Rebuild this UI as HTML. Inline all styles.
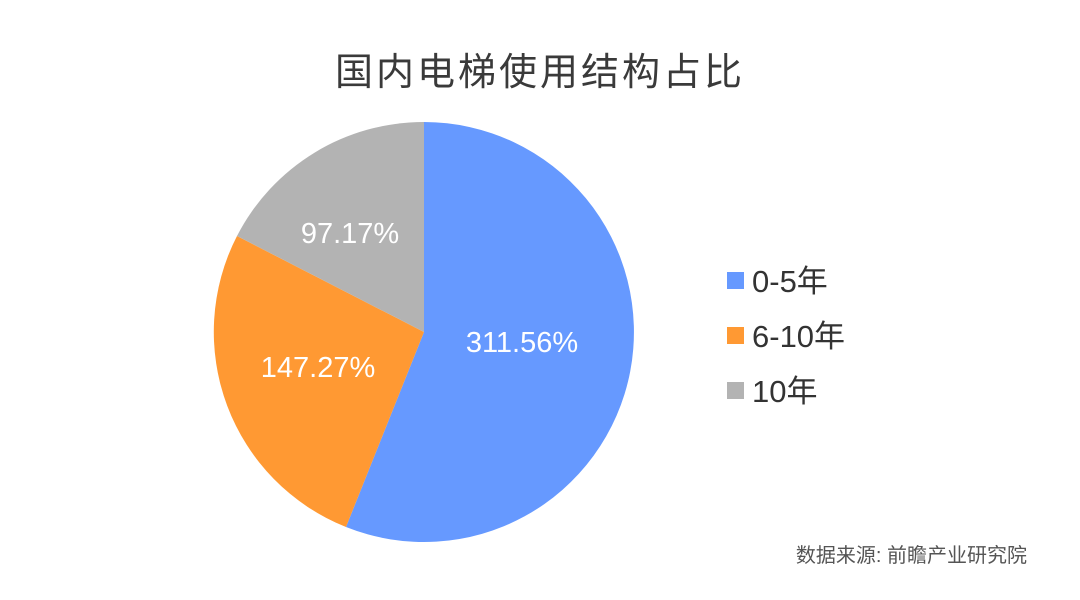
<!DOCTYPE html>
<html><head><meta charset="utf-8"><style>
html,body{margin:0;padding:0;background:#fff;}
body{width:1080px;height:600px;position:relative;overflow:hidden;font-family:"Liberation Sans","Noto Sans CJK SC",sans-serif;}
</style></head><body>
<svg width="1080" height="600" viewBox="0 0 1080 600" xmlns="http://www.w3.org/2000/svg" style="position:absolute;left:0;top:0">
<text x="540" y="85" text-anchor="middle" font-family="Liberation Sans, Noto Sans CJK SC, sans-serif" font-size="38" fill="#3a3a3a" letter-spacing="3">国内电梯使用结构占比</text>
<path d="M424,332 L424,122 A210,210 0 1,1 346,527 Z" fill="#6699ff"/>
<path d="M424,332 L346,527 A210,210 0 0,1 237,236 Z" fill="#ff9933"/>
<path d="M424,332 L237,236 A210,210 0 0,1 424,122 Z" fill="#b3b3b3"/>
<g font-family="Liberation Sans, sans-serif" font-size="29" fill="#fff">
<text x="522" y="352" text-anchor="middle">311.56%</text>
<text x="318" y="377" text-anchor="middle">147.27%</text>
<text x="350" y="243" text-anchor="middle">97.17%</text>
</g>
<rect x="727" y="272" width="17" height="17" fill="#6699ff"/>
<rect x="727" y="327" width="17" height="17" fill="#ff9933"/>
<rect x="727" y="382" width="17" height="17" fill="#b3b3b3"/>
<g font-family="Liberation Sans, Noto Sans CJK SC, sans-serif" font-size="31" fill="#333">
<text x="752" y="292">0-5年</text>
<text x="752" y="347">6-10年</text>
<text x="752" y="402">10年</text>
</g>
<text x="1027" y="562" text-anchor="end" font-family="Liberation Sans, Noto Sans CJK SC, sans-serif" font-size="20" fill="#555">数据来源: 前瞻产业研究院</text>
</svg>
</body></html>
